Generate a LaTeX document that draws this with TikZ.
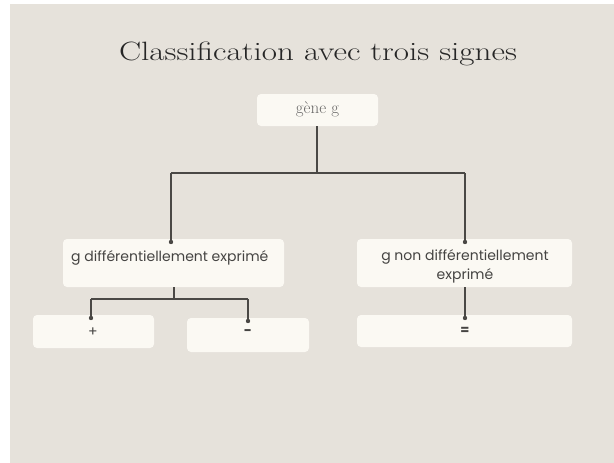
\documentclass[tikz,border=0pt]{standalone}
\usepackage{fontspec}
\newfontfamily\boxfont{Poppins}
\definecolor{bgpaper}{HTML}{E6E2DB}
\definecolor{boxfill}{HTML}{FBF9F3}
\definecolor{linecol}{HTML}{4A4845}
\definecolor{txtcol}{HTML}{454442}
\begin{document}
\begin{tikzpicture}[x=1pt,y=-1pt,
  card/.style={fill=boxfill,draw=none,rounded corners=4pt},
  conn/.style={draw=linecol,line width=1.4pt},
  dotend/.style={fill=linecol,draw=none},
  boxtxt/.style={text=txtcol,font=\boxfont\fontsize{14}{19}\selectfont,inner sep=0pt}]
\useasboundingbox (0,0) rectangle (614,463);
\fill[white] (0,0) rectangle (614,463);
\fill[bgpaper] (10,4) rectangle (614,463);
% title
\node[text=black!85,inner sep=0pt,anchor=base] (title) at (318,60)
  {\scalebox{1.25}[1]{\fontsize{26.5}{30}\selectfont Classification avec trois signes}};
% boxes
\path[card] (257,94) rectangle (378,126);
\node[text=txtcol!80,inner sep=0pt,font=\fontsize{17}{20}\selectfont] (gene) at (317.5,109) {gène g};
\coordinate (geneb) at (317,126);
\path[card] (63,239) rectangle (284,287);
\node[boxtxt,anchor=west] (diff) at (71,258) {g différentiellement exprimé};
\coordinate (difft) at (171,239);
\coordinate (diffb) at (174,287);
\path[card] (357,239) rectangle (572,287);
\node[boxtxt,align=center] (nondiff) at (465,266.5) {g non différentiellement\\exprimé};
\coordinate (nondifft) at (465,239);
\coordinate (nondiffb) at (465,287);
\path[card] (33,315) rectangle (154,348);
\node[boxtxt] (plus) at (93,332) {+};
\coordinate (plust) at (91,315);
\path[card] (187,318) rectangle (309,352);
\node[boxtxt,font=\boxfont\bfseries\fontsize{14}{15}\selectfont] (minus) at (248,333) {-};
\coordinate (minust) at (248,318);
\path[card] (357,315) rectangle (572,347);
\node[boxtxt,font=\boxfont\bfseries\fontsize{13}{15}\selectfont] (equal) at (465,331) {=};
\coordinate (equalt) at (465,315);
% connectors
\coordinate (j1) at (317,173);
\coordinate (j2) at (174,299);
\draw[conn] (geneb) -- (j1);
\draw[conn] (difft |- j1) -- (nondifft |- j1);
\draw[conn] (difft |- j1) -- ([yshift=-3]difft);
\draw[conn] (nondifft |- j1) -- ([yshift=-3]nondifft);
\draw[conn] (diffb) -- (j2);
\draw[conn] (plust |- j2) -- (minust |- j2);
\draw[conn] (plust |- j2) -- ([yshift=-3]plust);
\draw[conn] (minust |- j2) -- ([yshift=-3]minust);
\draw[conn] (nondiffb) -- ([yshift=-3]equalt);
\fill[dotend] ([yshift=-3]difft) circle (2.2);
\fill[dotend] ([yshift=-3]nondifft) circle (2.2);
\fill[dotend] ([yshift=-3]plust) circle (2.2);
\fill[dotend] ([yshift=-3]minust) circle (2.2);
\fill[dotend] ([yshift=-3]equalt) circle (2.2);
\end{tikzpicture}
\end{document}
